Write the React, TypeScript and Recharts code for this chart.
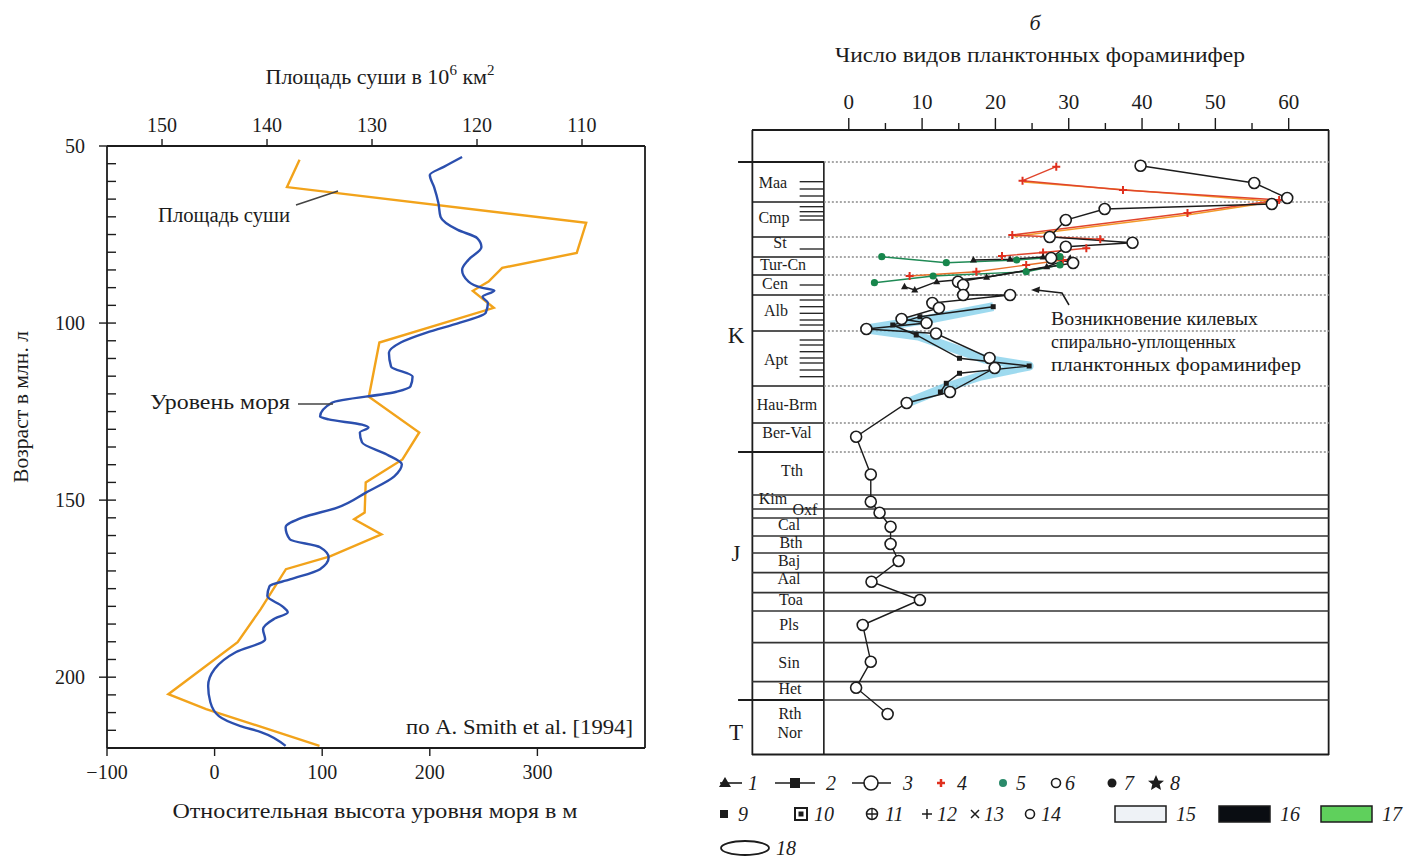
import React from 'react';
import { LineChart, Line, XAxis, YAxis, ReferenceLine } from 'recharts';

const FONT = '"Liberation Serif", "Times New Roman", serif';
const INK = '#1c1c1c';
const BLUE = '#2b4fae';
const ORANGE = '#f2a31b';

// ---------- panel a: sea level / land area vs age ----------
const seaAge = [53.1, 55.9, 58.2, 61.6, 66.1, 70.0, 73.7, 76.0, 78.5, 82.1, 85.0, 88.3, 90.0, 90.8, 92.6, 94.3, 97.1, 99.9, 102.7, 105.5, 108.4, 112.3, 115.1, 117.9, 119.4, 122.5, 126.4, 127.2, 128.7, 129.5, 130.9, 133.7, 137.1, 139.9, 143.3, 147.8, 152.1, 154.9, 157.7, 161.1, 163.3, 166.2, 169.5, 172.4, 174.3, 177.1, 180.0, 181.7, 183.6, 186.5, 189.3, 192.9, 197.7, 202.5, 207.0, 211.0, 213.8, 215.5, 219.4];
const seaLevel = [230, 213, 200, 204, 208, 210, 226, 244, 248, 236, 230, 236, 248, 260, 249, 254, 252, 228, 197, 173, 162, 164, 184, 182, 169, 109, 98, 106, 137, 143, 135, 137, 160, 174, 167, 141, 114, 82, 66, 70, 98, 106, 98, 70, 51, 49, 63, 68, 55, 45, 47, 20, 0, -6, -4, 4, 24, 43, 66];

const landAge = [53.9, 61.6, 71.7, 80.2, 84.4, 88.3, 90.9, 95.7, 105.5, 120.8, 130.9, 138.5, 145.0, 153.5, 155.4, 159.7, 165.9, 169.5, 180.8, 190.1, 204.8, 209.0, 219.4];
const landArea = [136.9, 138.1, 109.6, 110.5, 117.6, 118.9, 120.4, 118.4, 129.3, 130.3, 125.5, 127.1, 130.6, 130.7, 131.7, 129.1, 134.0, 138.2, 140.6, 142.8, 149.4, 145.8, 135.0];

const ageTicks = [50, 55, 60, 65, 70, 75, 80, 85, 90, 95, 100, 105, 110, 115, 120, 125, 130, 135, 140, 145, 150, 155, 160, 165, 170, 175, 180, 185, 190, 195, 200, 205, 210, 215, 220];
const seaTicks = [-100, 0, 100, 200, 300];
const areaTicks = [150, 140, 130, 120, 110];

const seaRows = seaAge.map((age, i) => ({ age, v: seaLevel[i] }));
const landRows = landAge.map((age, i) => ({ age, a: landArea[i] }));

// ---------- panel b: planktonic foraminifera species count vs stratigraphic level ----------
// pairs: [species count, level (0 = top of frame, 625 = bottom)]
const s3Circles = [[39.8, 35.7], [55.3, 53], [59.8, 68], [57.7, 74], [34.9, 79], [29.6, 90], [27.4, 107], [38.7, 112.7], [29.6, 116.7], [27.6, 128], [30.6, 133], [14.9, 151.7], [15.6, 155], [15.6, 165], [22.0, 165], [11.4, 173], [12.3, 178], [7.2, 189], [10.6, 193], [2.4, 199], [11.9, 203.5], [19.2, 228], [19.9, 238], [13.8, 262], [7.9, 273], [1.0, 306.7], [3.0, 344.5], [3.0, 371.7], [4.2, 382.7], [5.7, 396.7], [5.7, 414], [6.8, 431], [3.1, 451.7], [9.7, 470], [1.9, 495], [3.0, 531.7], [1.0, 557.7], [5.3, 584]];
const s2Squares = [[19.7, 176.7], [9.7, 186.7], [6.0, 195], [9.2, 205], [15.1, 228.3], [24.6, 236], [15.1, 243.3], [13.3, 253.3], [12.5, 262]];
const band = [[19.7, 176.7], [11.0, 189], [2.4, 199], [9.5, 206], [18.5, 229], [24.6, 236], [18.0, 246], [13.0, 258], [7.9, 273]];
const s4RedA = [[28.3, 36.7], [23.7, 50.7], [37.4, 60], [58.7, 70], [46.2, 83], [22.3, 105], [34.3, 109.3]];
const s4Orange = [[23.9, 52], [58.2, 71.5], [46.6, 84.5], [22.6, 106.5]];
const s4RedB = [[20.9, 126], [26.5, 122.5], [32.4, 118.3]];
const s4RedC = [[8.3, 146], [17.4, 141.7], [24.2, 135], [29.2, 130]];
const s5GreenA = [[4.5, 126.7], [13.3, 132.7], [22.9, 130], [28.8, 126.7]];
const s5GreenB = [[3.5, 152.7], [11.5, 146], [24.2, 141.7], [28.8, 135]];
const s1TriA = [[17.0, 130], [22.0, 129.3], [26.5, 127]];
const s1TriB = [[7.6, 156.7], [9.0, 160], [12.0, 151.7], [18.8, 147.3], [27.0, 136.7], [30.2, 128.3]];

const speciesTicks = [0, 5, 10, 15, 20, 25, 30, 35, 40, 45, 50, 55, 60];

const stageNames = ['Maa', 'Cmp', 'St', 'Tur-Cn', 'Cen', 'Alb', 'Apt', 'Hau-Brm', 'Ber-Val', 'Tth', 'Kim', 'Oxf', 'Cal', 'Bth', 'Baj', 'Aal', 'Toa', 'Pls', 'Sin', 'Het', 'Rth', 'Nor'];
const stageLevels = [53, 88, 113, 135, 154, 181, 230, 275, 303, 341, 369, 380, 395, 413, 431, 449, 470, 495, 533, 559, 584, 603];
const systemNames = ['K', 'J', 'T'];
const systemLevels = [205, 423, 602];

const kBoundaries = [32, 72, 107, 127, 145, 165, 201, 256, 293, 322];
const jBoundaries = [365, 379, 388, 406, 423, 442.7, 462.7, 481, 512.7, 551.7, 570];
const systemBoundaries = [32, 322, 570];
const zoneHashes = [51.7, 59, 66, 76.7, 81.7, 86, 90, 119, 155, 170, 176.7, 183.3, 190, 195, 210, 215, 221.7, 228, 233, 240, 246.7];

// label x offsets inside the stage column (px from frame edge)
const stageDx = [21, 22, 28, 31, 23, 24, 24, 35, 35, 40, 21, 53, 37, 39, 37, 37, 39, 37, 37, 38, 38, 38];

const X_MIN = -13.2;
const X_MAX = 65.5;
const COL_EDGE = -3.4;
const SYS_EDGE = -15.1;
const HASH_START = -6.7;

const rows = (pairs: number[][]) => pairs.map(([n, lvl]) => ({ n, lvl }));

const txt = { fontFamily: FONT, fill: INK };

const AgeTick = ({ x, y, payload }: any) => {
  const major = payload.value % 50 === 0;
  return (
    <g>
      <line x1={major ? x - 8 : x} x2={x + 9} y1={y} y2={y} stroke={INK} strokeWidth={1.4} />
      {major && (
        <text x={x - 22} y={y + 7} textAnchor="end" fontSize={20} style={txt}>{payload.value}</text>
      )}
    </g>
  );
};

const SeaTick = ({ x, y, payload }: any) => (
  <g>
    <line x1={x} x2={x} y1={y} y2={y + 8} stroke={INK} strokeWidth={1.4} />
    <text x={x} y={y + 31} textAnchor="middle" fontSize={20} style={txt}>
      {payload.value < 0 ? `\u2212${-payload.value}` : payload.value}
    </text>
  </g>
);

const AreaTick = ({ x, y, payload }: any) => (
  <g>
    <line x1={x} x2={x} y1={y} y2={y - 7} stroke={INK} strokeWidth={1.4} />
    <text x={x} y={y - 14} textAnchor="middle" fontSize={20} style={txt}>{payload.value}</text>
  </g>
);

const SpeciesTick = ({ x, y, payload }: any) => {
  const major = payload.value % 10 === 0;
  return (
    <g>
      <line x1={x} x2={x} y1={y} y2={y - (major ? 12 : 7)} stroke={INK} strokeWidth={1.4} />
      {major && (
        <text x={x} y={y - 21} textAnchor="middle" fontSize={21} style={txt}>{payload.value}</text>
      )}
    </g>
  );
};

const StageTick = ({ x, y, payload }: any) => {
  const i = stageLevels.indexOf(payload.value);
  return (
    <text x={x + stageDx[i]} y={y + 5} textAnchor="middle" fontSize={16} style={txt}>{stageNames[i]}</text>
  );
};

const SystemTick = ({ x, y, payload }: any) => {
  const i = systemLevels.indexOf(payload.value);
  return (
    <text x={x - 15} y={y + 8} textAnchor="middle" fontSize={23} style={txt}>{systemNames[i]}</text>
  );
};

const openCircle = (p: any) => (
  <circle key={`c${p.index}`} cx={p.cx} cy={p.cy} r={5.5} fill="#fff" stroke={INK} strokeWidth={1.6} />
);
const smallSquare = (p: any) => (
  <rect key={`s${p.index}`} x={p.cx - 2.5} y={p.cy - 2.5} width={5} height={5} fill={INK} />
);
const redPlus = (p: any) => (
  <path key={`r${p.index}`} d={`M${p.cx - 4},${p.cy}H${p.cx + 4}M${p.cx},${p.cy - 4}V${p.cy + 4}`} stroke="#e0301e" strokeWidth={2} />
);
const greenDot = (p: any) => (
  <circle key={`g${p.index}`} cx={p.cx} cy={p.cy} r={3.6} fill="#17864c" />
);
const triangle = (p: any) => (
  <path key={`t${p.index}`} d={`M${p.cx},${p.cy - 4}L${p.cx + 3.5},${p.cy + 2.5}L${p.cx - 3.5},${p.cy + 2.5}Z`} fill={INK} />
);

const SeaPanel = () => (
  <LineChart
    layout="vertical"
    width={700}
    height={867}
    margin={{ top: 106, right: 55, bottom: 79, left: 47 }}
  >
    <XAxis
      xAxisId="sea"
      type="number"
      orientation="bottom"
      domain={[-100, 400]}
      ticks={seaTicks}
      interval={0}
      allowDataOverflow
      height={40}
      tickSize={0}
      tickMargin={0}
      tickLine={false}
      tick={(p: any) => <SeaTick {...p} />}
      axisLine={{ stroke: INK, strokeWidth: 1.8 }}
    />
    <XAxis
      xAxisId="area"
      type="number"
      orientation="top"
      domain={[104, 155.24]}
      reversed
      ticks={areaTicks}
      interval={0}
      allowDataOverflow
      height={40}
      tickSize={0}
      tickMargin={0}
      tickLine={false}
      tick={(p: any) => <AreaTick {...p} />}
      axisLine={{ stroke: INK, strokeWidth: 1.8 }}
    />
    <YAxis
      type="number"
      dataKey="age"
      domain={[50, 220]}
      ticks={ageTicks}
      interval={0}
      allowDataOverflow
      width={60}
      tickSize={0}
      tickMargin={0}
      tickLine={false}
      tick={(p: any) => <AgeTick {...p} />}
      axisLine={{ stroke: INK, strokeWidth: 1.8 }}
    />
    <ReferenceLine xAxisId="sea" x={400} stroke={INK} strokeWidth={1.8} />
    <Line
      xAxisId="area"
      data={landRows}
      dataKey="a"
      type="linear"
      stroke={ORANGE}
      strokeWidth={2.4}
      dot={false}
      isAnimationActive={false}
    />
    <Line
      xAxisId="sea"
      data={seaRows}
      dataKey="v"
      type="monotone"
      stroke={BLUE}
      strokeWidth={2.4}
      dot={false}
      isAnimationActive={false}
    />
  </LineChart>
);

const seriesLine = (key: string, pairs: number[][], color: string, dot: any, width = 1.4) => (
  <Line
    key={key}
    data={rows(pairs)}
    dataKey="n"
    type="linear"
    stroke={color}
    strokeWidth={width}
    dot={dot}
    isAnimationActive={false}
  />
);

const ForamPanel = () => (
  <LineChart
    layout="vertical"
    width={760}
    height={867}
    margin={{ top: 90, right: 91, bottom: 112, left: 90 }}
  >
    <XAxis
      type="number"
      orientation="top"
      domain={[X_MIN, X_MAX]}
      ticks={speciesTicks}
      interval={0}
      allowDataOverflow
      height={40}
      tickSize={0}
      tickMargin={0}
      tickLine={false}
      tick={(p: any) => <SpeciesTick {...p} />}
      axisLine={{ stroke: INK, strokeWidth: 1.8 }}
    />
    <YAxis
      type="number"
      dataKey="lvl"
      domain={[0, 625]}
      ticks={stageLevels}
      interval={0}
      allowDataOverflow
      width={1}
      tickSize={0}
      tickMargin={0}
      tickLine={false}
      tick={(p: any) => <StageTick {...p} />}
      axisLine={false}
    />
    <YAxis
      yAxisId="sys"
      type="number"
      dataKey="lvl"
      domain={[0, 625]}
      ticks={systemLevels}
      interval={0}
      allowDataOverflow
      width={1}
      tickSize={0}
      tickMargin={0}
      tickLine={false}
      axisLine={false}
      tick={(p: any) => <SystemTick {...p} />}
    />
    <ReferenceLine x={X_MIN + 0.05} stroke={INK} strokeWidth={1.8} />
    <ReferenceLine x={X_MAX - 0.05} stroke={INK} strokeWidth={1.8} />
    <ReferenceLine y={624.5} stroke={INK} strokeWidth={1.8} />
    <ReferenceLine segment={[{ x: COL_EDGE, y: 32 }, { x: COL_EDGE, y: 625 }]} stroke={INK} strokeWidth={1.6} />
    {kBoundaries.map((b) => (
      <ReferenceLine key={`kd${b}`} segment={[{ x: COL_EDGE, y: b }, { x: X_MAX, y: b }]} stroke="#8c8c8c" strokeWidth={1.6} strokeDasharray="2 2" />
    ))}
    {kBoundaries.map((b) => (
      <ReferenceLine key={`kc${b}`} segment={[{ x: X_MIN, y: b }, { x: COL_EDGE, y: b }]} stroke={INK} strokeWidth={1.5} />
    ))}
    {jBoundaries.map((b) => (
      <ReferenceLine key={`j${b}`} segment={[{ x: X_MIN, y: b }, { x: X_MAX, y: b }]} stroke="#333" strokeWidth={1.7} />
    ))}
    {systemBoundaries.map((b) => (
      <ReferenceLine key={`s${b}`} ifOverflow="visible" segment={[{ x: SYS_EDGE, y: b }, { x: COL_EDGE, y: b }]} stroke={INK} strokeWidth={2} />
    ))}
    {zoneHashes.map((b) => (
      <ReferenceLine key={`h${b}`} segment={[{ x: HASH_START, y: b }, { x: COL_EDGE, y: b }]} stroke={INK} strokeWidth={1.3} />
    ))}
    <Line
      data={rows(band)}
      dataKey="n"
      type="linear"
      stroke="#7dcdea"
      strokeOpacity={0.75}
      strokeWidth={9}
      strokeLinejoin="round"
      dot={false}
      isAnimationActive={false}
    />
    {seriesLine('o4', s4Orange, '#f39a2a', false, 1.6)}
    {seriesLine('r4a', s4RedA, '#e0452c', redPlus)}
    {seriesLine('r4b', s4RedB, '#e0452c', redPlus)}
    {seriesLine('r4c', s4RedC, '#e8702a', redPlus)}
    {seriesLine('g5a', s5GreenA, '#1f8a55', greenDot)}
    {seriesLine('g5b', s5GreenB, '#1f8a55', greenDot)}
    {seriesLine('t1a', s1TriA, INK, triangle)}
    {seriesLine('t1b', s1TriB, INK, triangle)}
    {seriesLine('s2', s2Squares, INK, smallSquare)}
    {seriesLine('s3', s3Circles, INK, openCircle)}
  </LineChart>
);

const Legend = () => {
  const it = { ...txt, fontStyle: 'italic' as const, fontSize: 20 };
  const r1 = 783;
  const r2 = 814;
  const r3 = 848;
  return (
    <g>
      <line x1={720} x2={742} y1={r1} y2={r1} stroke={INK} strokeWidth={1.6} />
      <path d={`M725,${r1 - 6}L731,${r1 + 4}L719,${r1 + 4}Z`} fill={INK} />
      <text x={748} y={r1 + 7} style={it}>1</text>
      <line x1={775} x2={815} y1={r1} y2={r1} stroke={INK} strokeWidth={1.6} />
      <rect x={790} y={r1 - 5} width={10} height={10} fill={INK} />
      <text x={826} y={r1 + 7} style={it}>2</text>
      <line x1={852} x2={891} y1={r1} y2={r1} stroke={INK} strokeWidth={1.6} />
      <circle cx={871} cy={r1} r={7} fill="#fff" stroke={INK} strokeWidth={1.6} />
      <text x={903} y={r1 + 7} style={it}>3</text>
      <path d={`M937,${r1}H945M941,${r1 - 4}V${r1 + 4}`} stroke="#e0301e" strokeWidth={2.5} />
      <text x={957} y={r1 + 7} style={it}>4</text>
      <circle cx={1003} cy={r1} r={4} fill="#2a8a6a" />
      <text x={1016} y={r1 + 7} style={it}>5</text>
      <circle cx={1056} cy={r1} r={4.5} fill="#fff" stroke={INK} strokeWidth={1.6} />
      <text x={1065} y={r1 + 7} style={it}>6</text>
      <circle cx={1112} cy={r1} r={4.5} fill={INK} />
      <text x={1124} y={r1 + 7} style={it}>7</text>
      <path d={`M1156,${r1 - 8}L1158.4,${r1 - 2.6}L1164,${r1 - 2.3}L1159.7,${r1 + 1.3}L1161,${r1 + 7}L1156,${r1 + 4}L1151,${r1 + 7}L1152.3,${r1 + 1.3}L1148,${r1 - 2.3}L1153.6,${r1 - 2.6}Z`} fill={INK} />
      <text x={1170} y={r1 + 7} style={it}>8</text>

      <rect x={720} y={r2 - 4} width={8} height={8} fill={INK} />
      <text x={738} y={r2 + 7} style={it}>9</text>
      <rect x={795} y={r2 - 6} width={12} height={12} fill="#fff" stroke={INK} strokeWidth={2} />
      <rect x={798.5} y={r2 - 2.5} width={5} height={5} fill={INK} />
      <text x={814} y={r2 + 7} style={it}>10</text>
      <circle cx={872} cy={r2} r={5.5} fill="#fff" stroke={INK} strokeWidth={1.5} />
      <path d={`M866.5,${r2}H877.5M872,${r2 - 5.5}V${r2 + 5.5}`} stroke={INK} strokeWidth={1.3} />
      <text x={885} y={r2 + 7} style={it}>11</text>
      <path d={`M922,${r2}H932M927,${r2 - 5}V${r2 + 5}`} stroke={INK} strokeWidth={1.5} />
      <text x={937} y={r2 + 7} style={it}>12</text>
      <path d={`M971,${r2 - 4}L979,${r2 + 4}M979,${r2 - 4}L971,${r2 + 4}`} stroke={INK} strokeWidth={1.5} />
      <text x={984} y={r2 + 7} style={it}>13</text>
      <circle cx={1030} cy={r2} r={4.5} fill="#fff" stroke={INK} strokeWidth={1.6} />
      <text x={1041} y={r2 + 7} style={it}>14</text>
      <rect x={1115} y={r2 - 8} width={51} height={16} fill="#eef2f6" stroke={INK} strokeWidth={1.5} />
      <text x={1176} y={r2 + 7} style={it}>15</text>
      <rect x={1219} y={r2 - 8} width={51} height={16} fill="#0a0d12" stroke={INK} strokeWidth={1.5} />
      <text x={1280} y={r2 + 7} style={it}>16</text>
      <rect x={1321} y={r2 - 8} width={51} height={16} fill="#5fd05c" stroke={INK} strokeWidth={1.5} />
      <text x={1382} y={r2 + 7} style={it}>17</text>

      <ellipse cx={745} cy={r3} rx={24} ry={7} fill="#fff" stroke={INK} strokeWidth={1.8} />
      <text x={776} y={r3 + 7} style={it}>18</text>
    </g>
  );
};

const fit = { lengthAdjust: 'spacingAndGlyphs' as const };

const Overlay = () => (
  <svg width={1420} height={867} style={{ position: 'absolute', left: 0, top: 0, pointerEvents: 'none' }}>
    {/* panel a */}
    <text x={380} y={84} textAnchor="middle" fontSize={22} style={txt}>
      Площадь суши в 10<tspan fontSize={15} dy={-9}>6</tspan><tspan dy={9}> км</tspan><tspan fontSize={15} dy={-9}>2</tspan>
    </text>
    <text x={375} y={818} textAnchor="middle" fontSize={21} textLength={405} {...fit} style={txt}>Относительная высота уровня моря в м</text>
    <text x={0} y={0} transform="translate(28,407) rotate(-90)" textAnchor="middle" fontSize={20} textLength={152} {...fit} style={txt}>Возраст в млн. л</text>
    <text x={158} y={222} fontSize={20} textLength={132} {...fit} style={txt}>Площадь суши</text>
    <line x1={296} y1={205} x2={338} y2={191} stroke="#444" strokeWidth={1.4} />
    <text x={150} y={409} fontSize={20} textLength={140} {...fit} style={txt}>Уровень моря</text>
    <line x1={298} y1={404} x2={333} y2={404} stroke="#444" strokeWidth={1.6} />
    <text x={406} y={734} fontSize={20} textLength={227} {...fit} style={txt}>по А. Smith et al. [1994]</text>

    {/* panel b */}
    <text x={1035} y={30} textAnchor="middle" fontSize={22} fontStyle="italic" style={txt}>б</text>
    <text x={1040} y={62} textAnchor="middle" fontSize={21} textLength={410} {...fit} style={txt}>Число видов планктонных фораминифер</text>
    <path d="M1036,290L1062,293L1069,305" fill="none" stroke={INK} strokeWidth={1.5} />
    <path d="M1031,290L1040,286.5L1039,293Z" fill={INK} />
    <text x={1051} y={325} fontSize={19} textLength={207} {...fit} style={txt}>Возникновение килевых</text>
    <text x={1051} y={348} fontSize={19} textLength={185} {...fit} style={txt}>спирально-уплощенных</text>
    <text x={1051} y={371} fontSize={19} textLength={250} {...fit} style={txt}>планктонных фораминифер</text>
    <Legend />
  </svg>
);

const App = () => (
  <div style={{ position: 'fixed', left: 0, top: 0, width: 1420, height: 867, background: '#fff', overflow: 'hidden' }}>
    <div style={{ position: 'absolute', left: 0, top: 0 }}>
      <SeaPanel />
    </div>
    <div style={{ position: 'absolute', left: 660, top: 0 }}>
      <ForamPanel />
    </div>
    <Overlay />
  </div>
);

export default App;
